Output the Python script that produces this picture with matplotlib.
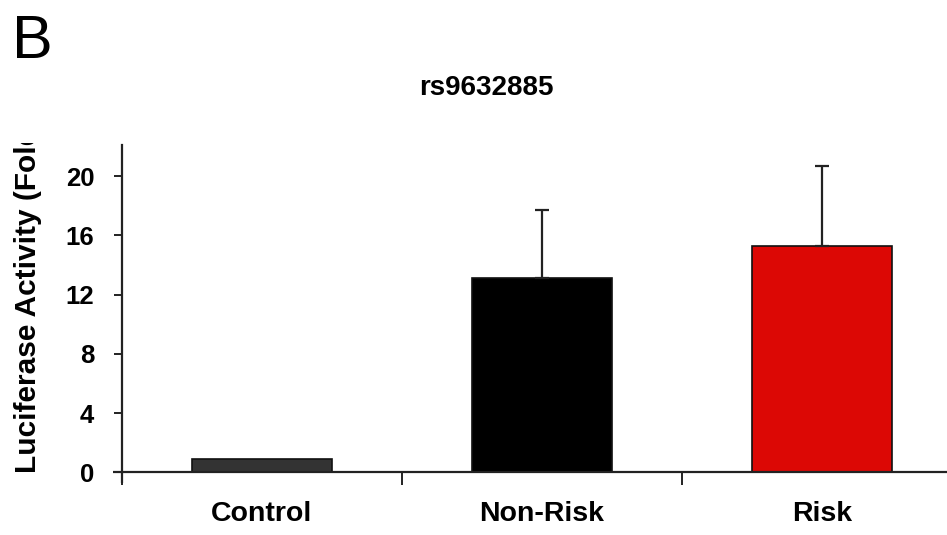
import matplotlib
matplotlib.use("Agg")
import matplotlib.pyplot as plt
from matplotlib.transforms import Bbox, TransformedBbox

# ── data ────────────────────────────────────────────────────────────────────
categories = ["Control", "Non-Risk", "Risk"]
values = [0.92, 13.15, 15.27]
errors_up = [0.0, 4.58, 5.44]
bar_colors = ["#333333", "#000000", "#dc0805"]
yticks = [0, 4, 8, 12, 16, 20]

title = "rs9632885"
ylabel = "Luciferase Activity (Fold"   # cut off in the source figure
panel = "B"

plt.rcParams["font.family"] = ["Liberation Sans", "DejaVu Sans"]

W, H = 947, 535
fig = plt.figure(figsize=(W / 100, H / 100), dpi=100)
fig.patch.set_facecolor("white")

# axes: y axis at x=122px, origin at y=472px, top at 145px; right side runs off the image
ax = fig.add_axes([122 / W, 1 - 472.3 / H, (962 - 122) / W, (472.3 - 145) / H])

x = list(range(len(categories)))
ax.bar(x, values, width=0.5, color=bar_colors, edgecolor="#111111", linewidth=1.2, zorder=2)

# upward-only error bars (none drawn for Control)
ex = [i for i, e in zip(x, errors_up) if e > 0]
ev = [v for v, e in zip(values, errors_up) if e > 0]
ee = [e for e in errors_up if e > 0]
ax.errorbar(ex, ev, yerr=[[0] * len(ee), ee], fmt="none", ecolor="#222222",
            elinewidth=1.6, capsize=5, capthick=1.6, zorder=3)

ax.set_xlim(-0.5, 2.5)
ax.set_ylim(0, 22.1)

ax.spines[["top", "right"]].set_visible(False)
for s in ("left", "bottom"):
    ax.spines[s].set_linewidth(1.6)
    ax.spines[s].set_color("#222222")

# axis lines run a little past the origin, like the original
ax.plot([0, 0], [0, -0.034], transform=ax.transAxes, color="#222222", lw=1.6,
        clip_on=False, solid_capstyle="butt")
ax.plot([0, -0.0107], [0, 0], transform=ax.transAxes, color="#222222", lw=1.6,
        clip_on=False, solid_capstyle="butt")

ax.set_yticks(yticks)
ax.set_yticklabels([str(t) for t in yticks], fontsize=18.5, fontweight="bold")
ax.tick_params(axis="y", direction="out", length=6, width=1.4, pad=14, color="#222222")

ax.set_xticks(x)
ax.set_xticklabels(categories, fontsize=20.5, fontweight="bold")
ax.tick_params(axis="x", which="major", length=0, pad=21)
ax.set_xticks([-0.5, 0.5, 1.5, 2.5], minor=True)
ax.tick_params(axis="x", which="minor", direction="out", length=9.5, width=1.4,
               color="#222222")

# title sits left of the axes centre in the original
fig.text(486 / W, 1 - 88 / H, title, ha="center", va="center",
         fontsize=20, fontweight="bold")

fig.text(12 / W, 1 - 58 / H, panel, ha="left", va="baseline", fontsize=44)

# y label, cut off at the top as in the reference
yl = fig.text(28 / W, 1 - 473 / H, ylabel, rotation=90, ha="center", va="bottom",
              fontsize=21.5, fontweight="bold")
yl.set_clip_box(TransformedBbox(Bbox([[0, 0], [0.12, 1 - 143 / H]]), fig.transFigure))
yl.set_clip_on(True)

fig.savefig("out.png", dpi=100, facecolor="white")
